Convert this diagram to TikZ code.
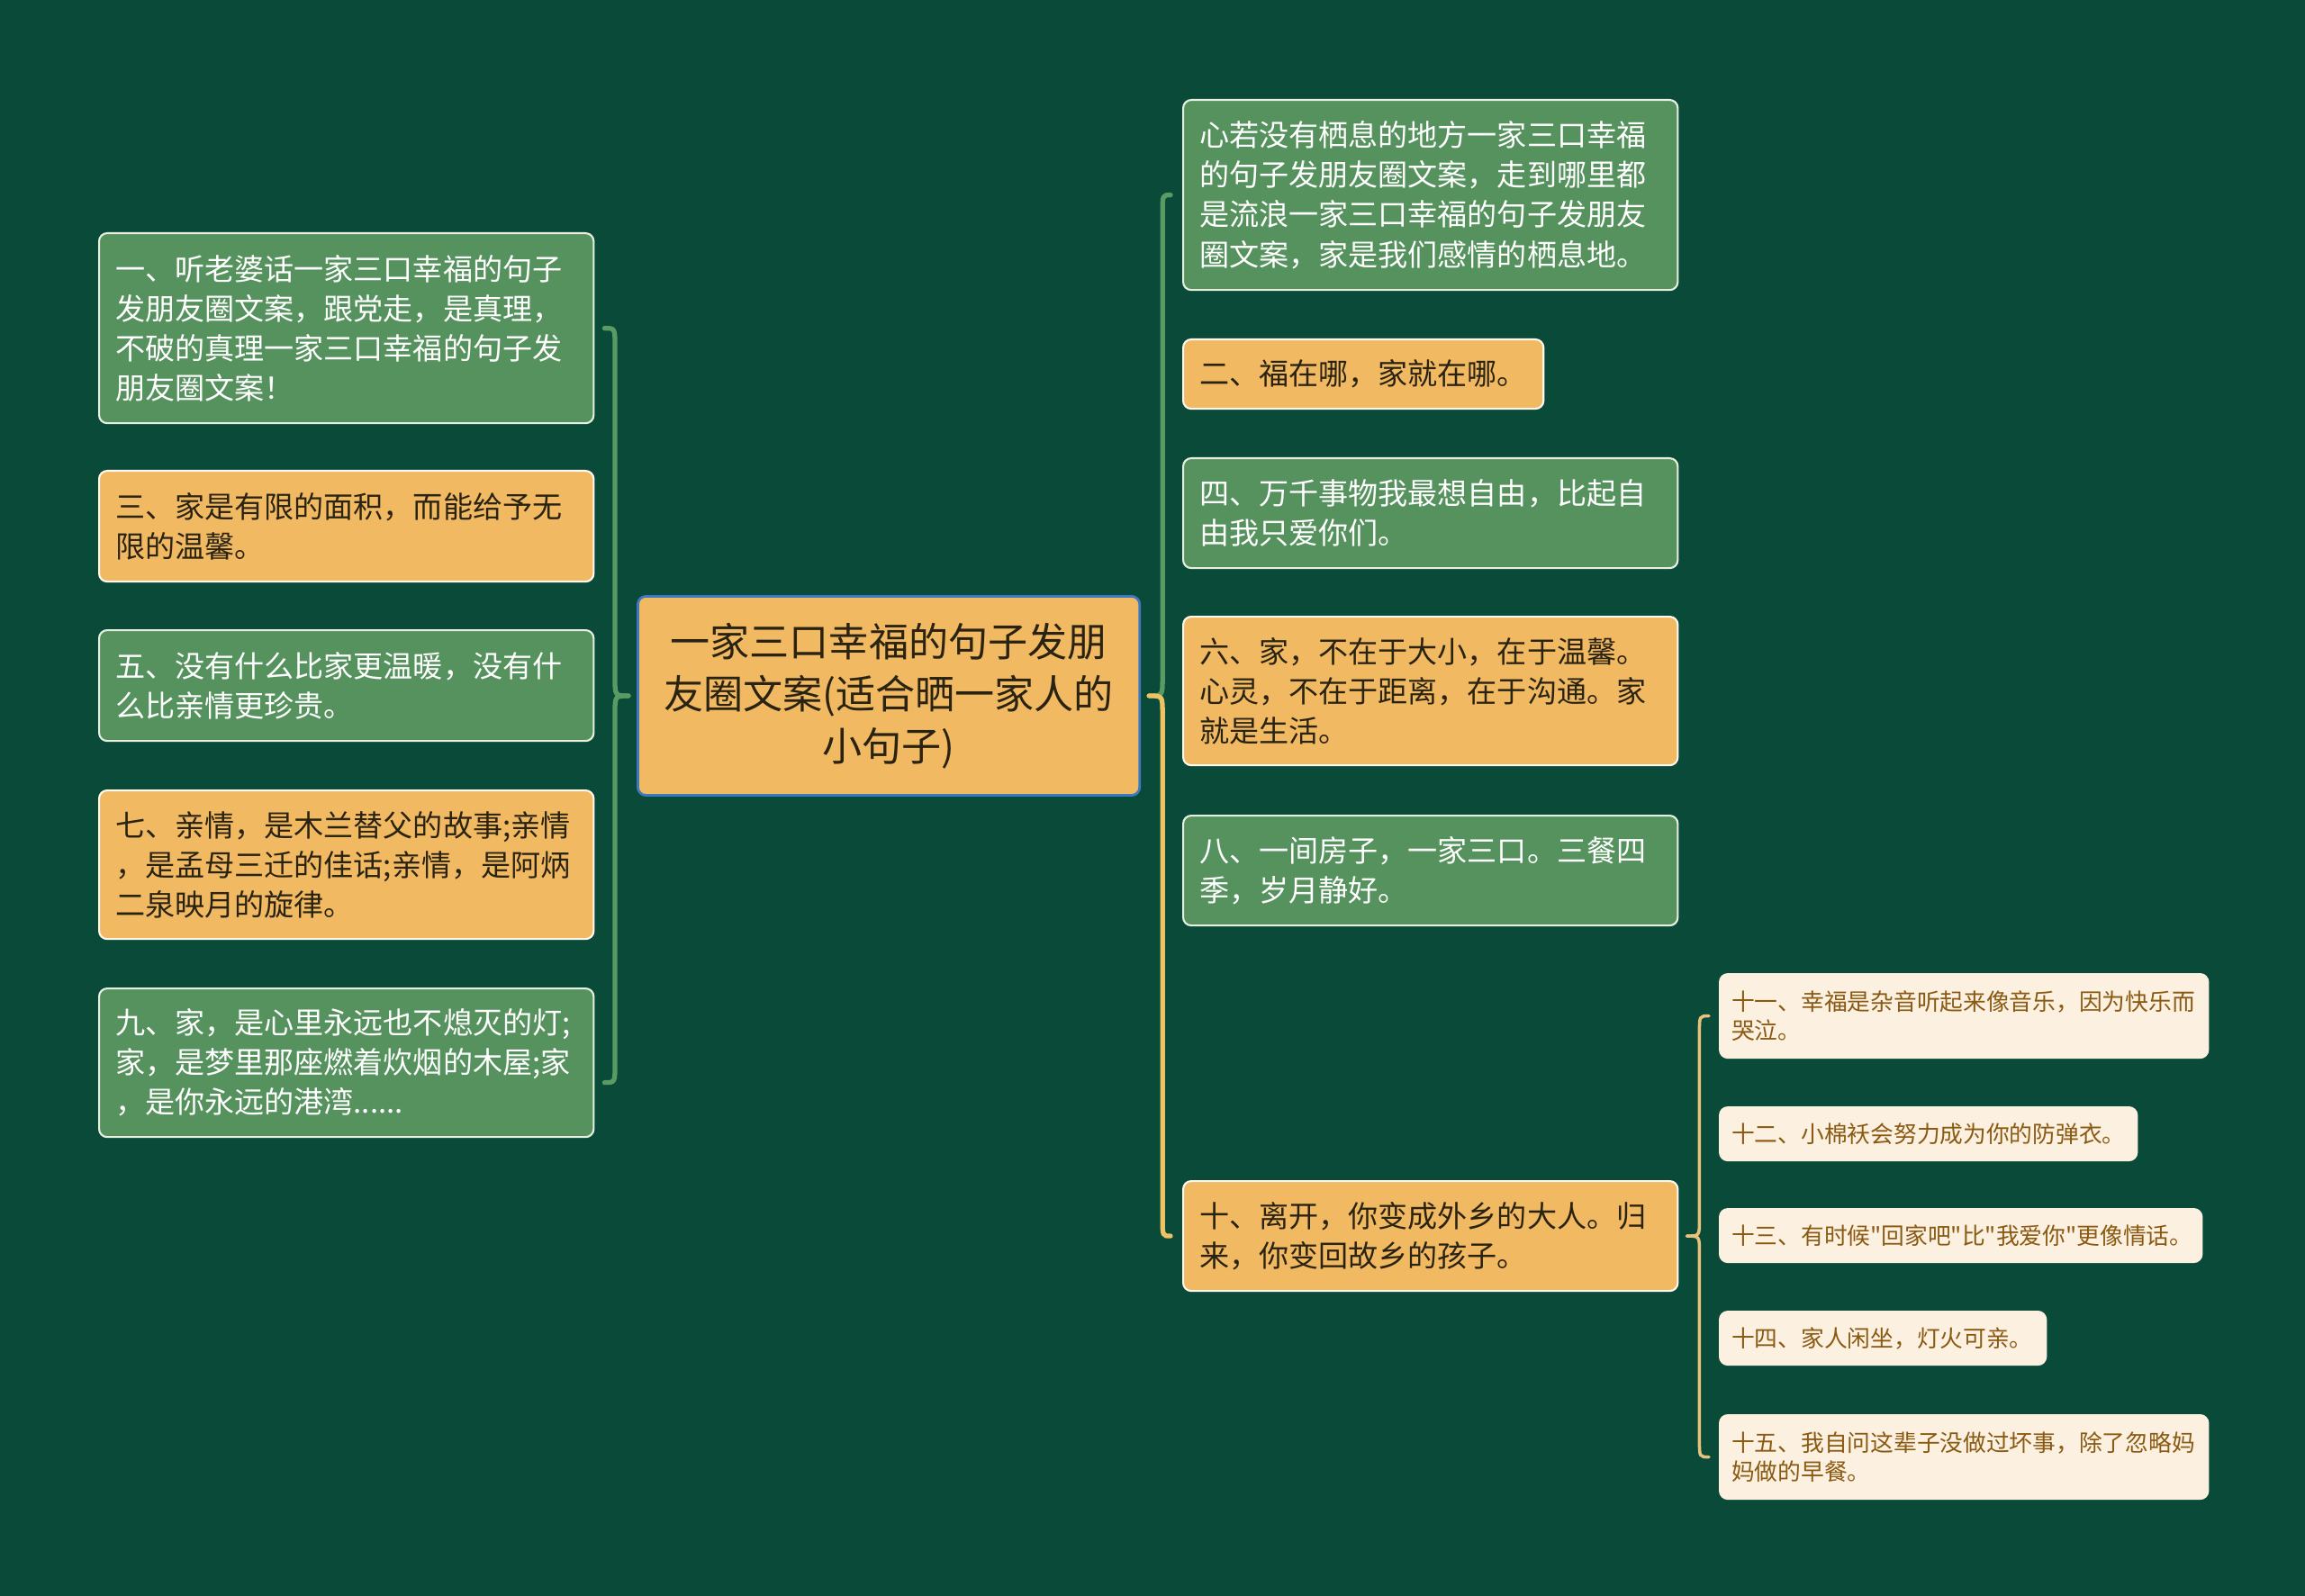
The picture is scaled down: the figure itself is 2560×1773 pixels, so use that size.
\documentclass[tikz,border=0pt]{standalone}
\usepackage{fontspec}
\setmainfont{Noto Sans CJK SC}[Ligatures=TeXOff]
\usetikzlibrary{calc}
\definecolor{bgc}{HTML}{0A4A39}
\definecolor{gfill}{HTML}{55925E}
\definecolor{ofill}{HTML}{F0B962}
\definecolor{otext}{HTML}{2A2312}
\definecolor{rootborder}{HTML}{3D78C0}
\definecolor{gline}{HTML}{5A9B64}
\definecolor{yline}{HTML}{EFC263}
\definecolor{sline}{HTML}{E6C27A}
\definecolor{cream}{HTML}{FCF0E0}
\definecolor{brown}{HTML}{8A5A12}
\definecolor{lightedge}{HTML}{E6EFE0}
\newcommand{\mysizemain}{\fontsize{9.41pt}{12.55pt}\selectfont}
\newcommand{\mysizeroot}{\fontsize{12.54pt}{16.5pt}\selectfont}
\newcommand{\mysizesub}{\fontsize{7.32pt}{9.3pt}\selectfont}
\tikzset{
  basebox/.style={rounded corners=0.09cm, line width=0.6pt, inner ysep=0pt, anchor=north west},
  gbox/.style={basebox, fill=gfill, draw=lightedge, text=white, inner xsep=0.18cm, align=left, font=\mysizemain},
  obox/.style={basebox, fill=ofill, draw=white!90!ofill, text=otext, inner xsep=0.18cm, align=left, font=\mysizemain},
  rootbox/.style={basebox, fill=ofill, draw=rootborder, line width=0.8pt, text=otext, inner xsep=0.18cm, align=center, font=\mysizeroot},
  subbox/.style={basebox, fill=cream, draw=cream, text=brown, inner xsep=0.13cm, align=left, font=\mysizesub},
  gconn/.style={draw=gline, line width=1.5pt, line cap=round},
  yconn/.style={draw=yline, line width=1.5pt, line cap=round},
  sconn/.style={draw=sline, line width=1pt, line cap=round}
}
\begin{document}
\begin{tikzpicture}[x=0.01cm, y=-0.01cm]
\useasboundingbox (0,0) rectangle (2560,1773);
\fill[bgc] (0,0) rectangle (2560,1773);

% root
\node[rootbox, text width=5.21cm, minimum height=2.21cm] (root) at (707,661) {一家三口幸福的句子发朋\\友圈文案(适合晒一家人的\\小句子)};

% left children
\node[gbox, text width=5.13cm, minimum height=2.11cm] (L1) at (109,258) {一、听老婆话一家三口幸福的句子\\发朋友圈文案，跟党走，是真理，\\不破的真理一家三口幸福的句子发\\朋友圈文案！};
\node[obox, text width=5.13cm, minimum height=1.23cm] (L3) at (109,522) {三、家是有限的面积，而能给予无\\限的温馨。};
\node[gbox, text width=5.13cm, minimum height=1.23cm] (L5) at (109,699) {五、没有什么比家更温暖，没有什\\么比亲情更珍贵。};
\node[obox, text width=5.13cm, minimum height=1.65cm] (L7) at (109,877) {七、亲情，是木兰替父的故事;亲情\\，是孟母三迁的佳话;亲情，是阿炳\\二泉映月的旋律。};
\node[gbox, text width=5.13cm, minimum height=1.65cm] (L9) at (109,1097) {九、家，是心里永远也不熄灭的灯;\\家，是梦里那座燃着炊烟的木屋;家\\，是你永远的港湾......};

% right children
\node[gbox, text width=5.13cm, minimum height=2.11cm] (R0) at (1313,110) {心若没有栖息的地方一家三口幸福\\的句子发朋友圈文案，走到哪里都\\是流浪一家三口幸福的句子发朋友\\圈文案，家是我们感情的栖息地。};
\node[obox, text width=3.64cm, minimum height=0.77cm] (R2) at (1313,376) {二、福在哪，家就在哪。};
\node[gbox, text width=5.13cm, minimum height=1.22cm] (R4) at (1313,508) {四、万千事物我最想自由，比起自\\由我只爱你们。};
\node[obox, text width=5.13cm, minimum height=1.65cm] (R6) at (1313,684) {六、家，不在于大小，在于温馨。\\心灵，不在于距离，在于沟通。家\\就是生活。};
\node[gbox, text width=5.13cm, minimum height=1.22cm] (R8) at (1313,905) {八、一间房子，一家三口。三餐四\\季，岁月静好。};
\node[obox, text width=5.13cm, minimum height=1.22cm] (R10) at (1313,1311) {十、离开，你变成外乡的大人。归\\来，你变回故乡的孩子。};

% sub children
\node[subbox, text width=5.16cm, minimum height=0.93cm] (S11) at (1909,1081) {十一、幸福是杂音听起来像音乐，因为快乐而\\哭泣。};
\node[subbox, text width=4.37cm, minimum height=0.59cm] (S12) at (1909,1229) {十二、小棉袄会努力成为你的防弹衣。};
\node[subbox, text width=5.09cm, minimum height=0.59cm] (S13) at (1909,1342) {十三、有时候"回家吧"比"我爱你"更像情话。};
\node[subbox, text width=3.36cm, minimum height=0.59cm] (S14) at (1909,1456) {十四、家人闲坐，灯火可亲。};
\node[subbox, text width=5.16cm, minimum height=0.93cm] (S15) at (1909,1571) {十五、我自问这辈子没做过坏事，除了忽略妈\\妈做的早餐。};

% bracket reference points
\coordinate (lt) at ($(root.west)+(-9,0)$);
\coordinate (lv) at ($(root.west)+(-24,0)$);
\coordinate (lb) at ($(L9.east)+(11,22)$);
\coordinate (rt) at ($(root.east)+(9,0)$);
\coordinate (rv) at ($(root.east)+(24,0)$);
\coordinate (st) at ($(R10.east)+(9,0)$);
\coordinate (sv) at ($(R10.east)+(23,0)$);

% left bracket
\draw[gconn] (lt) .. controls (lv |- root.west) .. ($(lv |- root.west)+(0,-20)$) -- ($(lv |- L1.east)+(0,20)$) .. controls (lv |- L1.east) .. ($(L1.east)+(11,0)$);
\draw[gconn] (lt) .. controls (lv |- root.west) .. ($(lv |- root.west)+(0,20)$) -- ($(lv |- lb)+(0,-20)$) .. controls (lv |- lb) .. (lb);

% right bracket
\draw[gconn] (rt) .. controls (rv |- root.east) .. ($(rv |- root.east)+(0,-20)$) -- ($(rv |- R0.west)+(0,20)$) .. controls (rv |- R0.west) .. ($(R0.west)+(-13,0)$);
\draw[yconn] (rt) .. controls (rv |- root.east) .. ($(rv |- root.east)+(0,20)$) -- ($(rv |- R10.west)+(0,-20)$) .. controls (rv |- R10.west) .. ($(R10.west)+(-13,0)$);

% sub bracket
\draw[sconn] (st) .. controls (sv |- R10.east) .. ($(sv |- R10.east)+(0,-18)$) -- ($(sv |- S11.west)+(0,18)$) .. controls (sv |- S11.west) .. ($(S11.west)+(-11,0)$);
\draw[sconn] (st) .. controls (sv |- R10.east) .. ($(sv |- R10.east)+(0,18)$) -- ($(sv |- S15.west)+(0,-18)$) .. controls (sv |- S15.west) .. ($(S15.west)+(-11,0)$);
\end{tikzpicture}
\end{document}
